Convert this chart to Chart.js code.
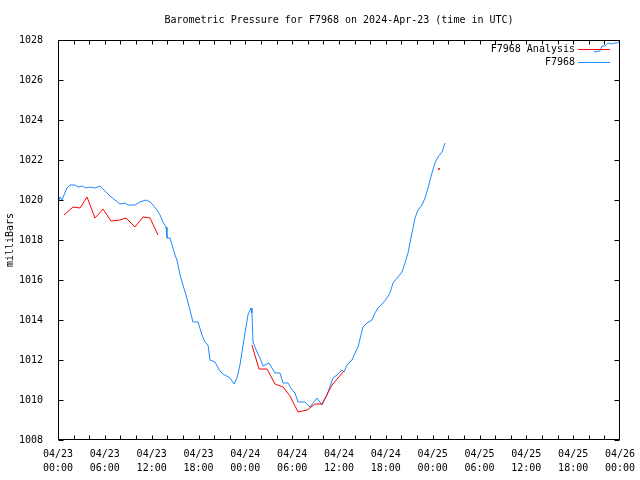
<!DOCTYPE html>
<html lang="en">
<head>
<meta charset="UTF-8">
<title>Barometric Pressure for F7968</title>
<script src="https://cdn.jsdelivr.net/npm/chart.js"></script>
<style>
  html, body { margin: 0; padding: 0; background: #fff; }
  #wrap { width: 640px; height: 480px; }
</style>
</head>
<body>
<div id="wrap"><canvas id="chart" width="640" height="480"></canvas></div>
<script>
// hours since 04/23 00:00 UTC, pressure in mbar
const stationHours = [0, 0.26, 0.51, 0.77, 1.15, 1.54, 2.18, 2.56, 3.07, 3.59, 4.10, 4.74, 5.38, 5.89, 6.66, 7.30, 7.94, 8.58, 8.97, 9.87,
  10.50, 11.27, 11.79, 12.17, 12.68, 13.07, 13.45, 13.84, 13.96, 14.35, 14.73, 14.99, 15.24, 15.63, 16.01, 16.40, 16.91, 17.29, 17.94, 18.45,
  18.83, 19.22, 19.47, 20.11, 20.75, 21.14, 22.04, 22.55, 22.93, 23.31, 23.96, 24.34, 24.73, 24.85, 24.98, 25.49, 25.88, 26.26, 27.03, 27.80,
  28.44, 28.83, 29.47, 29.98, 30.36, 30.75, 31.64, 32.28, 32.67, 33.18, 33.82, 33.95, 34.46, 35.23, 35.74, 36.38, 36.64, 37.03, 37.66, 38.05,
  38.44, 39.07, 39.59, 40.23, 40.61, 41.00, 41.64, 42.15, 42.53, 42.92, 43.56, 44.07, 44.45, 44.84, 45.35, 45.74, 46.12, 46.63, 47.02, 47.40,
  47.91, 48.30, 48.68, 49.20, 49.58,
  null,
  68.67, 69.43, 69.69, 70.07, 70.46, 70.97, 71.23, 71.61, 72.0];
const stationPressure = [1019.85, 1020.15, 1020.0, 1020.25, 1020.6, 1020.75, 1020.75, 1020.65, 1020.7, 1020.6, 1020.65, 1020.6, 1020.7, 1020.5, 1020.2, 1020.0, 1019.8, 1019.85, 1019.75, 1019.75,
  1019.9, 1020.0, 1019.9, 1019.75, 1019.5, 1019.25, 1018.9, 1018.65, 1018.1, 1018.1, 1017.6, 1017.25, 1017.0, 1016.25, 1015.75, 1015.25, 1014.5, 1013.9, 1013.9, 1013.25,
  1012.9, 1012.75, 1012.0, 1011.9, 1011.45, 1011.3, 1011.1, 1010.8, 1011.1, 1011.75, 1013.35, 1014.25, 1014.6, 1014.35, 1012.9, 1012.4, 1012.1, 1011.7, 1011.85, 1011.35,
  1011.35, 1010.85, 1010.85, 1010.5, 1010.35, 1009.9, 1009.9, 1009.65, 1009.85, 1010.1, 1009.75, 1009.85, 1010.25, 1011.1, 1011.25, 1011.5, 1011.4, 1011.75, 1012.0, 1012.35,
  1012.65, 1013.65, 1013.85, 1014.0, 1014.35, 1014.6, 1014.85, 1015.1, 1015.35, 1015.85, 1016.15, 1016.4, 1016.85, 1017.35, 1018.35, 1019.1, 1019.5, 1019.75, 1020.1, 1020.6,
  1021.35, 1021.85, 1022.15, 1022.4, 1022.85,
  null,
  1027.4, 1027.45, 1027.7, 1027.7, 1027.85, 1027.8, 1027.85, 1027.85, 1027.95];

const analysisHours = [0.77, 1.92, 2.82, 3.72, 4.74, 5.77, 6.79, 7.94, 8.71, 9.86, 10.89, 11.79, 12.81,
  null,
  24.85, 25.75, 26.78, 27.80, 28.83, 29.72, 30.75, 31.90, 32.93, 33.82, 35.10, 36.64,
  null,
  48.81];
const analysisPressure = [1019.25, 1019.65, 1019.6, 1020.15, 1019.1, 1019.55, 1018.95, 1019.0, 1019.1, 1018.65, 1019.15, 1019.1, 1018.25,
  null,
  1012.75, 1011.55, 1011.55, 1010.8, 1010.65, 1010.2, 1009.4, 1009.5, 1009.8, 1009.8, 1010.75, 1011.45,
  null,
  1021.55];

const yTicks = [1008, 1010, 1012, 1014, 1016, 1018, 1020, 1022, 1024, 1026, 1028];
const xTicks = [0, 6, 12, 18, 24, 30, 36, 42, 48, 54, 60, 66, 72];
const dayLabels = ['04/23', '04/24', '04/25', '04/26'];
const seriesNames = ['F7968 Analysis', 'F7968'];
const seriesColors = ['#ff0000', '#1e88ff'];

const FONT = 'DejaVu Sans Mono';

function toPoints(xs, ys) {
  return xs.map((h, i) => ({ x: h === null ? (xs[i - 1] + 0.01) : h, y: ys[i] }));
}

function isLonely(ctx) {
  const d = ctx.dataset.data;
  const i = ctx.dataIndex;
  if (d[i].y === null) return false;
  const prev = i > 0 ? d[i - 1].y : null;
  const next = i < d.length - 1 ? d[i + 1].y : null;
  return prev === null && next === null;
}

// frame, inward ticks and gnuplot-style key
const framePlugin = {
  id: 'frame',
  afterDraw(chart) {
    const { ctx, chartArea: a, scales } = chart;
    ctx.save();
    ctx.strokeStyle = '#000';
    ctx.lineWidth = 1;
    const l = Math.round(a.left) + 0.5, r = Math.round(a.right) - 0.5;
    const t = Math.round(a.top) + 0.5, b = Math.round(a.bottom) - 0.5;
    ctx.beginPath();
    ctx.rect(l, t, r - l, b - t);
    for (let h = 0; h <= 72; h += 2) {
      const x = Math.min(Math.round(scales.x.getPixelForValue(h)) + 0.5, r);
      ctx.moveTo(x, b); ctx.lineTo(x, b - 4);
      ctx.moveTo(x, t); ctx.lineTo(x, t + 4);
    }
    yTicks.forEach(v => {
      const y = Math.round(scales.y.getPixelForValue(v)) + 0.5;
      ctx.moveTo(l, y); ctx.lineTo(l + 5, y);
      ctx.moveTo(r, y); ctx.lineTo(r - 5, y);
    });
    ctx.stroke();

    ctx.font = '10px ' + FONT;
    ctx.textAlign = 'right';
    ctx.textBaseline = 'middle';
    seriesNames.forEach((name, i) => {
      const y = 49 + i * 13;
      ctx.fillStyle = '#000';
      ctx.fillText(name, 575, y);
      ctx.fillStyle = seriesColors[i];
      ctx.fillRect(578, y, 32, 1);
    });
    ctx.restore();
  }
};

new Chart(document.getElementById('chart'), {
  type: 'line',
  data: {
    datasets: [
      {
        label: seriesNames[0],
        data: toPoints(analysisHours, analysisPressure),
        borderColor: seriesColors[0],
        backgroundColor: seriesColors[0],
        borderWidth: 1,
        pointRadius: ctx => isLonely(ctx) ? 1 : 0,
        pointBorderWidth: 0,
        tension: 0,
        spanGaps: false
      },
      {
        label: seriesNames[1],
        data: toPoints(stationHours, stationPressure),
        borderColor: seriesColors[1],
        borderWidth: 1,
        pointRadius: 0,
        tension: 0,
        spanGaps: false
      }
    ]
  },
  options: {
    responsive: false,
    animation: false,
    events: [],
    layout: { padding: { left: 0, right: 20, top: 0, bottom: 0 } },
    plugins: {
      legend: { display: false },
      tooltip: { enabled: false },
      title: {
        display: true,
        fullSize: false,
        text: 'Barometric Pressure for F7968 on 2024-Apr-23 (time in UTC)',
        color: '#000',
        font: { family: FONT, size: 10, weight: 'normal', lineHeight: 1.2 },
        padding: { top: 14, bottom: 14 }
      }
    },
    scales: {
      x: {
        type: 'linear',
        min: 0,
        max: 72,
        grid: { display: false },
        border: { display: false },
        afterFit: s => { s.height = 40; },
        afterBuildTicks: s => { s.ticks = xTicks.map(v => ({ value: v })); },
        ticks: {
          color: '#000',
          padding: -1,
          maxRotation: 0,
          autoSkip: false,
          font: { family: FONT, size: 10, lineHeight: 1.4 },
          callback: v => [dayLabels[Math.floor(v / 24)], String(v % 24).padStart(2, '0') + ':00']
        }
      },
      y: {
        min: 1008,
        max: 1028,
        grid: { display: false },
        border: { display: false },
        afterFit: s => { s.width = 58; },
        ticks: {
          color: '#000',
          stepSize: 2,
          padding: 7,
          font: { family: FONT, size: 10 },
          callback: v => String(v)
        },
        title: {
          display: true,
          text: 'milliBars',
          color: '#000',
          font: { family: FONT, size: 10 },
          padding: { top: 4, bottom: 0 }
        }
      }
    }
  },
  plugins: [framePlugin]
});
</script>
</body>
</html>
